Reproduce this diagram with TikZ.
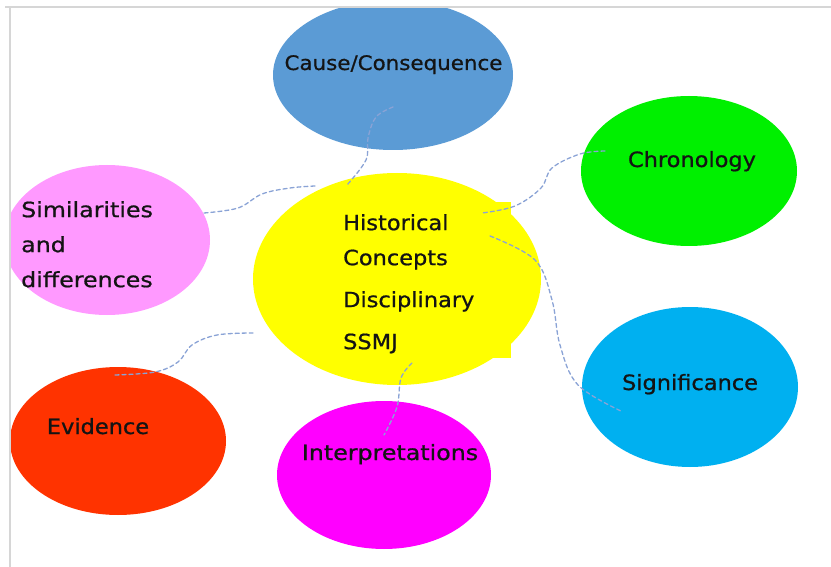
\documentclass[tikz,border=0pt]{standalone}
\usepackage{fontspec}
\setmainfont{DejaVu Sans}
\newfontfamily\lblfont{DejaVu Sans}[FakeStretch=1.07, FakeBold=0.8]
\newfontfamily\lblwide{DejaVu Sans}[FakeStretch=1.13, FakeBold=0.8]
\usetikzlibrary{shapes.geometric}
\definecolor{causeblue}{HTML}{5B9BD5}
\definecolor{chrongreen}{HTML}{00F000}
\definecolor{sigblue}{HTML}{00B0F0}
\definecolor{intmag}{HTML}{FF00FF}
\definecolor{evired}{HTML}{FF3300}
\definecolor{simpink}{HTML}{FF99FF}
\definecolor{centyellow}{HTML}{FFFF00}
\definecolor{dashblue}{HTML}{8AA3D6}
\definecolor{framegray}{HTML}{D6D6D6}
\definecolor{inkblack}{HTML}{141414}
\begin{document}
\begin{tikzpicture}[x=1pt,y=-1pt,
  blob/.style={ellipse, draw=none, inner sep=0pt},
  lbl/.style={inner sep=0pt, text=inkblack, font=\lblfont\fontsize{21}{25}\selectfont, anchor=base},
  conn/.style={draw=dashblue, line width=1.3pt, dash pattern=on 4pt off 3pt, line cap=round},
  framel/.style={draw=framegray, line width=2pt}]
\useasboundingbox (0,0) rectangle (831,567);
\fill[white] (0,0) rectangle (831,567);
\begin{scope}
\clip (10.5,8) rectangle (831,567);
\node[blob, fill=causeblue, minimum width=240pt, minimum height=150pt] (cause) at (393,75) {};
\node[blob, fill=chrongreen, minimum width=216pt, minimum height=150pt] (chron) at (689,171) {};
\node[blob, fill=sigblue, minimum width=216pt, minimum height=160pt] (sig) at (690,387) {};
\node[blob, fill=intmag, minimum width=214pt, minimum height=148pt] (interp) at (384,475) {};
\node[blob, fill=evired, minimum width=216pt, minimum height=148pt] (evid) at (118,441) {};
\node[blob, fill=simpink, minimum width=206pt, minimum height=150pt] (simil) at (107,240) {};
\fill[centyellow] (330,202) rectangle (511,358);
\node[blob, fill=centyellow, minimum width=288pt, minimum height=212pt] (hist) at (397,279) {};
\end{scope}
\draw[framel] (5,7) -- (831,7);
\draw[framel] (9.5,7) -- (9.5,567);
% labels
\node[lbl, font=\fontsize{20}{25}\selectfont\lblfont] (causeT) at (393.5,70) {Cause/Consequence};
\node[lbl] (chronT) at (692,167) {Chronology};
\node[lbl] (sigT) at (690,390) {Significance};
\node[lbl, font=\lblwide\fontsize{21}{25}\selectfont] (interpT) at (390,460) {Interpretations};
\node[lbl] (evidT) at (98,434) {Evidence};
\node[lbl, anchor=north west, align=left, font=\lblwide\fontsize{21}{35}\selectfont] (similT) at (21,201) {Similarities\\and\\differences};
\node[lbl, anchor=north west, align=left, font=\lblfont\fontsize{21}{35}\selectfont] (histT) at (343,214) {Historical\\Concepts\\[7pt]Disciplinary\\[7pt]SSMJ};
% connector end points
\coordinate (cA) at (393,107);
\coordinate (cB) at (347,185);
\coordinate (sA) at (204,213);
\coordinate (sB) at (315,186);
\coordinate (chA) at (605,151);
\coordinate (chB) at (482,213);
\coordinate (sgA) at (490,236);
\coordinate (sgB) at (623,412);
\coordinate (eA) at (115,375);
\coordinate (eB) at (253,333);
\coordinate (iA) at (412,363);
\coordinate (iB) at (384,435);
\draw[conn] plot[smooth, tension=0.6] coordinates {(cA) (376,117) (368,138) (366,160) (cB)};
\draw[conn] plot[smooth, tension=0.6] coordinates {(sA) (238,208) (262,194) (290,188) (sB)};
\draw[conn] plot[smooth, tension=0.6] coordinates {(chA) (580,154) (552,168) (541,188) (515,206) (chB)};
\draw[conn] plot[smooth, tension=0.6] coordinates {(sgA) (535,260) (552,300) (560,345) (578,385) (sgB)};
\draw[conn] plot[smooth, tension=0.6] coordinates {(eA) (155,372) (178,362) (192,345) (217,335) (eB)};
\draw[conn] plot[smooth, tension=0.6] coordinates {(iA) (401,378) (397,407) (iB)};
\end{tikzpicture}
\end{document}
